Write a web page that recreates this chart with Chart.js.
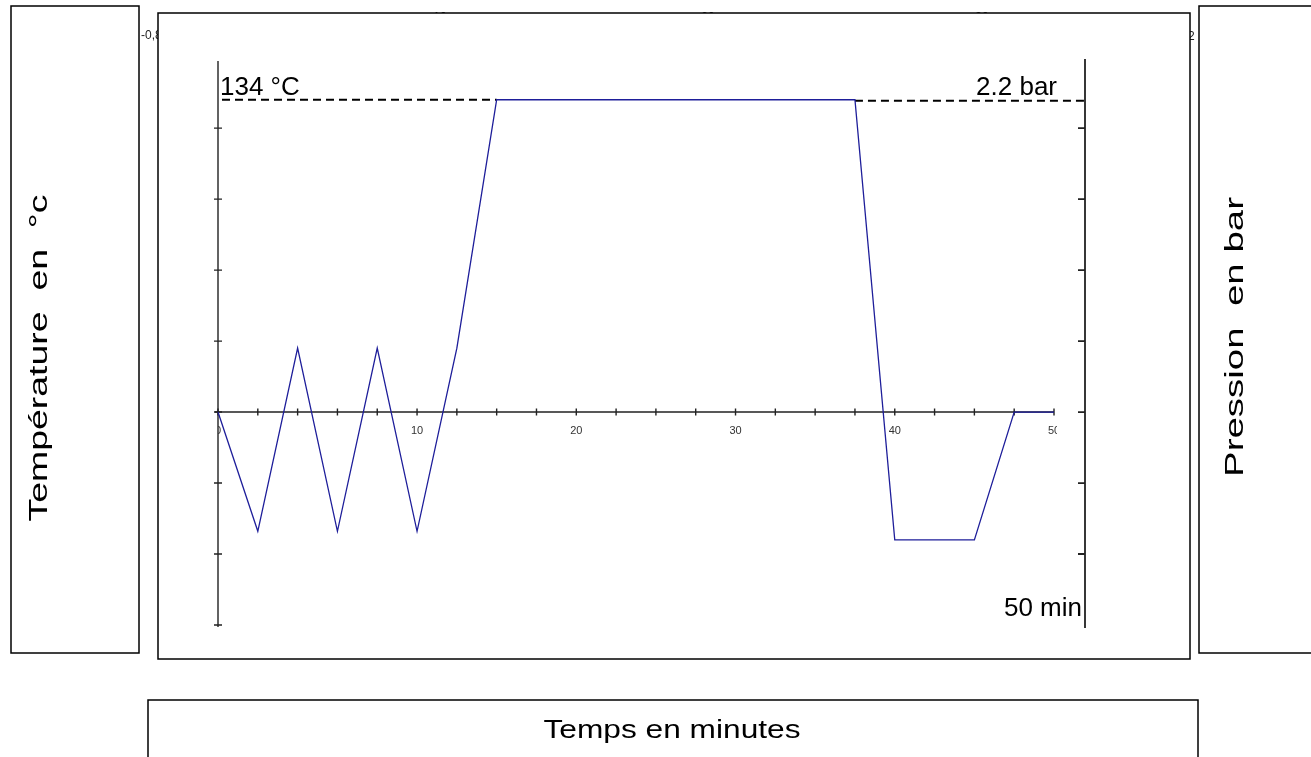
<!DOCTYPE html>
<html>
<head>
<meta charset="utf-8">
<script src="https://cdn.jsdelivr.net/npm/chart.js@4/dist/chart.umd.min.js"></script>
<style>
html,body{margin:0;padding:0;background:#fff;}
canvas{display:block;}
</style>
</head>
<body>
<canvas id="c" width="1311" height="757"></canvas>
<script>
// ---- data ----
const timeLabels = ["0","","","","","10","","","","20","","","","30","","","","40","","","","50"];
const pressureBar = [0,-0.84,0.45,-0.84,0.45,-0.84,0.45,2.2,2.2,2.2,2.2,2.2,2.2,2.2,2.2,2.2,2.2,-0.9,-0.9,-0.9,0,0];
const plateauValue = 2.2;
const plateauStart = 7, plateauEnd = 16;
const yTicks = [-1.5,-1,-0.5,0,0.5,1,1.5,2];
const rightTicks = [-1,-0.5,0,0.5,1,1.5,2];
const hiddenLabels = ["-0,8","10","20","30","2"];
const texts = {
  left: "Température  en  °c",
  right: "Pression  en bar",
  bottom: "Temps en minutes",
  temp: "134 °C",
  press: "2.2 bar",
  duration: "50 min"
};

const FONT = "'Liberation Sans', Arial, sans-serif";

function rect(ctx, x, y, w, h) {
  ctx.fillStyle = "#fff";
  ctx.fillRect(x, y, w, h);
  ctx.strokeStyle = "#000";
  ctx.lineWidth = 1.5;
  ctx.strokeRect(x, y, w, h);
}

// draw text centred at (cx,cy), rotated, stretched along its direction to a given length
function stretchedText(ctx, str, cx, cy, rot, px, len) {
  ctx.save();
  ctx.font = px + "px " + FONT;
  const w = ctx.measureText(str).width;
  ctx.translate(cx, cy);
  ctx.rotate(rot);
  ctx.scale(len / w, 1);
  ctx.textAlign = "center";
  ctx.textBaseline = "middle";
  ctx.fillStyle = "#000";
  ctx.fillText(str, 0, 0);
  ctx.restore();
}

const decor = {
  id: 'decor',
  beforeDatasetsDraw(chart) {
    const ctx = chart.ctx;
    const xs = chart.scales.x, ys = chart.scales.y;
    ctx.save();
    // hidden background axis labels (mostly covered by the frames)
    ctx.fillStyle = "#222";
    ctx.font = "12px " + FONT;
    ctx.textBaseline = "alphabetic";
    ctx.textAlign = "left";
    ctx.fillText(hiddenLabels[0], 141, 39);
    ctx.textAlign = "center";
    ctx.fillText(hiddenLabels[1], 440, 21);
    ctx.fillText(hiddenLabels[2], 708, 21);
    ctx.fillText(hiddenLabels[3], 982, 21);
    ctx.textAlign = "left";
    ctx.fillText(hiddenLabels[4], 1188, 40);

    // frames
    rect(ctx, 11, 6, 128, 647);
    rect(ctx, 158, 13, 1032, 646);
    rect(ctx, 1199, 6, 140, 647);
    rect(ctx, 148, 700, 1050, 80);

    // frame texts
    stretchedText(ctx, texts.left, 40, 358, -Math.PI / 2, 26, 327);
    stretchedText(ctx, texts.right, 1236, 337, -Math.PI / 2, 26, 280);
    stretchedText(ctx, texts.bottom, 672, 731, 0, 26, 257);

    const x0 = xs.getPixelForValue(0);
    const xEnd = xs.getPixelForValue(timeLabels.length - 1);
    const xRight = xEnd + 31;
    const y0 = ys.getPixelForValue(0);
    const top = chart.chartArea.top, bottom = chart.chartArea.bottom;

    ctx.strokeStyle = "#222";
    ctx.lineWidth = 1.4;
    // left axis
    ctx.beginPath();
    ctx.moveTo(x0, top + 1);
    ctx.lineTo(x0, bottom + 2);
    yTicks.forEach(v => {
      const y = ys.getPixelForValue(v);
      ctx.moveTo(x0 - 4, y);
      ctx.lineTo(x0 + 4, y);
    });
    ctx.stroke();
    // right axis
    ctx.lineWidth = 1.8;
    ctx.beginPath();
    ctx.moveTo(xRight, top - 1);
    ctx.lineTo(xRight, bottom + 3);
    rightTicks.forEach(v => {
      const y = ys.getPixelForValue(v);
      ctx.moveTo(xRight - 7, y);
      ctx.lineTo(xRight, y);
    });
    ctx.stroke();
    // x axis
    ctx.lineWidth = 1.4;
    ctx.beginPath();
    ctx.moveTo(x0 - 3, y0);
    ctx.lineTo(xEnd, y0);
    timeLabels.forEach((l, i) => {
      const x = xs.getPixelForValue(i);
      ctx.moveTo(x, y0 - 3.5);
      ctx.lineTo(x, y0 + 3.5);
    });
    ctx.stroke();
    // x tick labels, clipped to plot area
    ctx.save();
    ctx.beginPath();
    ctx.rect(x0, y0, xEnd + 3 - x0, 40);
    ctx.clip();
    ctx.fillStyle = "#333";
    ctx.font = "11px " + FONT;
    ctx.textAlign = "center";
    ctx.textBaseline = "alphabetic";
    timeLabels.forEach((l, i) => {
      if (l) ctx.fillText(l, xs.getPixelForValue(i), y0 + 22);
    });
    ctx.restore();

    // dashed level lines
    const yp = ys.getPixelForValue(plateauValue);
    ctx.strokeStyle = "#000";
    ctx.lineWidth = 1.8;
    ctx.setLineDash([8, 5]);
    ctx.beginPath();
    ctx.moveTo(x0 + 4, yp);
    ctx.lineTo(xs.getPixelForValue(plateauStart), yp);
    ctx.moveTo(xs.getPixelForValue(plateauEnd), yp + 1);
    ctx.lineTo(xRight, yp + 1);
    ctx.stroke();
    ctx.setLineDash([]);

    // annotations
    ctx.fillStyle = "#000";
    ctx.font = "26px " + FONT;
    ctx.textBaseline = "alphabetic";
    ctx.textAlign = "left";
    ctx.fillText(texts.temp, x0 + 2, yp - 5);
    ctx.textAlign = "right";
    ctx.fillText(texts.press, xEnd + 3, yp - 5);
    ctx.fillText(texts.duration, xRight - 3, bottom - 9);
    ctx.restore();
  }
};

new Chart(document.getElementById('c'), {
  type: 'line',
  data: {
    labels: timeLabels,
    datasets: [{
      data: pressureBar,
      borderColor: '#1e1e9a',
      borderWidth: 1.3,
      pointRadius: 0,
      tension: 0,
      fill: false
    }]
  },
  options: {
    responsive: false,
    animation: false,
    devicePixelRatio: 1,
    layout: { padding: { left: 218, right: 257, top: 60, bottom: 132 } },
    plugins: { legend: { display: false }, tooltip: { enabled: false } },
    scales: {
      x: { type: 'category', display: false, offset: false },
      y: { type: 'linear', display: false, min: -1.5, max: 2.48 }
    }
  },
  plugins: [decor]
});
</script>
</body>
</html>
